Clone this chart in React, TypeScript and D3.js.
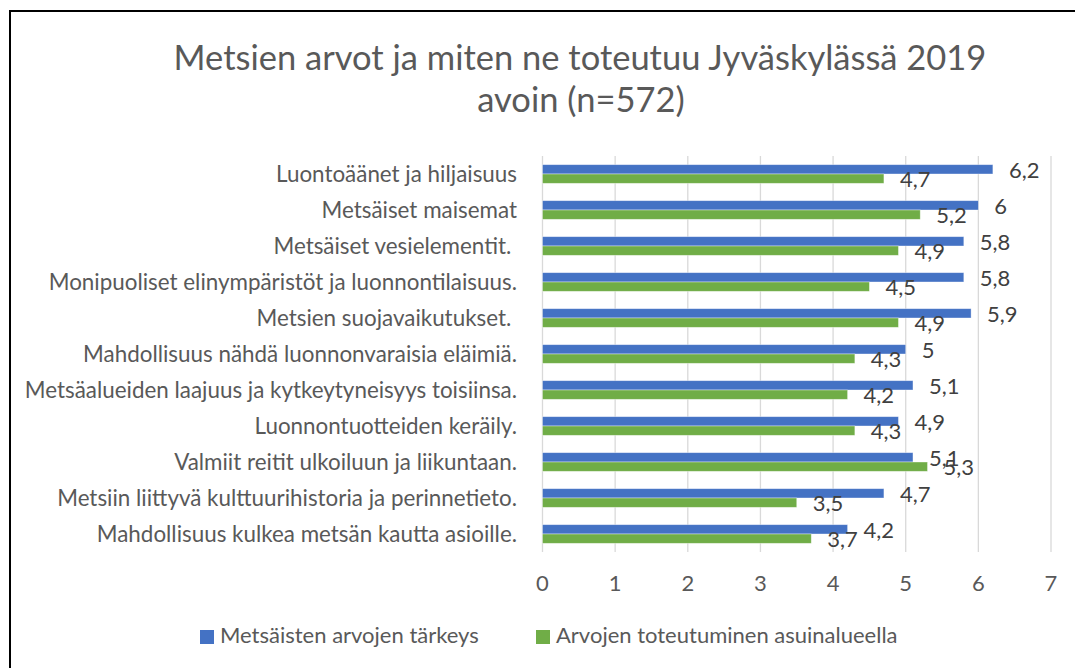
import React, { useEffect, useRef } from 'react';
import * as d3 from 'd3';

const categories = [
  'Luontoäänet ja hiljaisuus',
  'Metsäiset maisemat',
  'Metsäiset vesielementit. ',
  'Monipuoliset elinympäristöt ja luonnontilaisuus.',
  'Metsien suojavaikutukset. ',
  'Mahdollisuus nähdä luonnonvaraisia eläimiä.',
  'Metsäalueiden laajuus ja kytkeytyneisyys toisiinsa.',
  'Luonnontuotteiden keräily.',
  'Valmiit reitit ulkoiluun ja liikuntaan.',
  'Metsiin liittyvä kulttuurihistoria ja perinnetieto.',
  'Mahdollisuus kulkea metsän kautta asioille.',
];

const importance = [6.2, 6, 5.8, 5.8, 5.9, 5, 5.1, 4.9, 5.1, 4.7, 4.2];
const realization = [4.7, 5.2, 4.9, 4.5, 4.9, 4.3, 4.2, 4.3, 5.3, 3.5, 3.7];

const seriesNames = ['Metsäisten arvojen tärkeys', 'Arvojen toteutuminen asuinalueella'];
const seriesColors = ['#4472C4', '#70AD47'];
const xTicks = [0, 1, 2, 3, 4, 5, 6, 7];

const titleLines = ['Metsien arvot ja miten ne toteutuu Jyväskylässä 2019', 'avoin (n=572)'];

const FONT = 'Lato, "Open Sans", sans-serif';

export default function App() {
  const ref = useRef<SVGSVGElement>(null);

  useEffect(() => {
    const svg = d3.select(ref.current);
    svg.selectAll('*').remove();

    const W = 1075;
    const H = 668;

    svg.append('rect').attr('width', W).attr('height', H).attr('fill', '#fff');

    // outer chart border (only left/top visible in frame)
    svg.append('rect')
      .attr('x', 10).attr('y', 11)
      .attr('width', 1200).attr('height', 800)
      .attr('fill', 'none').attr('stroke', '#000').attr('stroke-width', 2);

    // title
    svg.append('text')
      .attr('x', 580)
      .attr('y', 70)
      .attr('text-anchor', 'middle')
      .style('font-family', FONT)
      .style('font-size', '34.5px')
      .attr('fill', '#595959')
      .text(titleLines[0]);
    svg.append('text')
      .attr('x', 581)
      .attr('y', 112)
      .attr('text-anchor', 'middle')
      .style('font-family', FONT)
      .style('font-size', '34.5px')
      .attr('fill', '#595959')
      .text(titleLines[1]);

    const plotTop = 156;
    const plotBottom = 552;

    const x = d3.scaleLinear().domain([0, 7]).range([542.5, 1051]);

    const y = d3.scaleBand<string>()
      .domain(categories)
      .range([plotTop, plotBottom])
      .padding(0);

    const sub = d3.scaleBand<number>()
      .domain([0, 1])
      .range([0, y.bandwidth()])
      .paddingInner(0)
      .paddingOuter(0.93);

    // gridlines
    svg.append('g')
      .selectAll('line')
      .data(xTicks)
      .enter()
      .append('line')
      .attr('x1', d => x(d))
      .attr('x2', d => x(d))
      .attr('y1', plotTop)
      .attr('y2', plotBottom)
      .attr('stroke', '#D9D9D9')
      .attr('stroke-width', 1.3);

    // tick labels
    svg.append('g')
      .selectAll('text')
      .data(xTicks)
      .enter()
      .append('text')
      .attr('x', d => x(d))
      .attr('y', 591)
      .attr('text-anchor', 'middle')
      .style('font-family', FONT)
      .style('font-size', '22px')
      .attr('fill', '#595959')
      .text(d => String(d));

    // category labels
    svg.append('g')
      .selectAll('text')
      .data(categories)
      .enter()
      .append('text')
      .attr('x', 517)
      .attr('y', d => (y(d) as number) + y.bandwidth() / 2 + 7.7)
      .attr('text-anchor', 'end')
      .style('font-family', FONT)
      .style('font-size', '22.4px')
      .style('white-space', 'pre')
      .attr('fill', '#595959')
      .text(d => d);

    const fmt = (v: number) => String(v).replace('.', ',');

    [importance, realization].forEach((vals, si) => {
      const g = svg.append('g');
      g.selectAll('rect')
        .data(vals)
        .enter()
        .append('rect')
        .attr('x', x(0))
        .attr('y', (_, i) => (y(categories[i]) as number) + (sub(si) as number))
        .attr('width', d => x(d) - x(0))
        .attr('height', sub.bandwidth())
        .attr('fill', seriesColors[si])
        .attr('stroke', '#ffffff')
        .attr('stroke-opacity', 0.5)
        .attr('stroke-width', 0.75);

      g.selectAll('text')
        .data(vals)
        .enter()
        .append('text')
        .attr('x', d => x(d) + 16)
        .attr('y', (_, i) => (y(categories[i]) as number) + (sub(si) as number) + sub.bandwidth() / 2 + 8.7)
        .style('font-family', FONT)
        .style('font-size', '22px')
        .attr('fill', '#404040')
        .text(d => fmt(d));
    });

    // legend
    const legendX = [200, 536];
    seriesNames.forEach((name, si) => {
      svg.append('rect')
        .attr('x', legendX[si])
        .attr('y', 630)
        .attr('width', 14)
        .attr('height', 14)
        .attr('fill', seriesColors[si]);
      svg.append('text')
        .attr('x', legendX[si] + 20)
        .attr('y', 643)
        .style('font-family', FONT)
        .style('font-size', '22px')
        .attr('fill', '#595959')
        .text(name);
    });
  }, []);

  return (
    <svg
      ref={ref}
      width={1075}
      height={668}
      style={{ position: 'absolute', left: 0, top: 0, display: 'block' }}
    />
  );
}
